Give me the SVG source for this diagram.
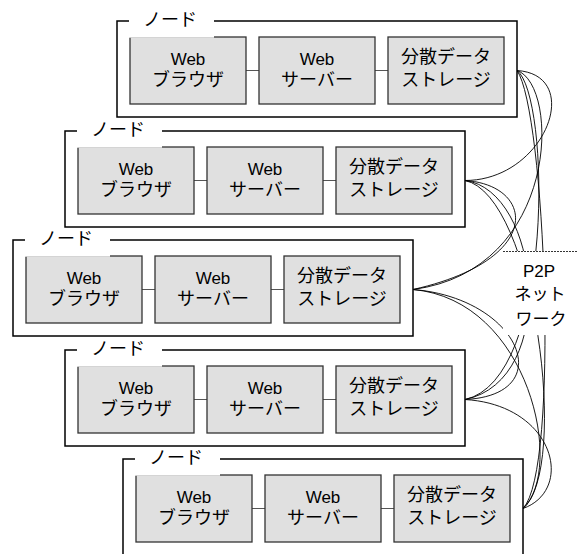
<svg xmlns="http://www.w3.org/2000/svg" width="577" height="554" viewBox="0 0 577 554">
<style>
  .outer{fill:#fff;stroke:#000;stroke-width:1.5}
  .box{fill:#e0e0e0;stroke:#333;stroke-width:1.3}
  .link{stroke:#555;stroke-width:1}
  .lab{fill:#fff;stroke:none}
  text{font-family:"Liberation Sans","Noto Sans CJK JP",sans-serif;fill:#000;text-anchor:middle}
  .ja{font-size:18px}
  .en{font-size:17px}
  .nl{font-size:18px;text-anchor:start}
  .curve{fill:none;stroke:#000;stroke-width:0.9}
  .stub{stroke:#000;stroke-width:2}
</style>
<defs>
  <g id="nodeT">
    <rect class="outer" x="0" y="0" width="400" height="96"/>
    <line class="link" x1="129" y1="49.5" x2="142" y2="49.5"/>
    <line class="link" x1="258" y1="49.5" x2="271" y2="49.5"/>
    <rect class="box" x="13" y="16" width="116" height="67"/>
    <rect class="box" x="142" y="16" width="116" height="67"/>
    <rect class="box" x="271" y="16" width="116" height="67"/>
    <rect class="lab" x="12" y="-9" width="85" height="25.7"/>
    <text class="nl" x="26" y="5">ノード</text>
    <text class="en" x="71" y="44">Web</text>
    <text class="ja" x="71" y="65">ブラウザ</text>
    <text class="en" x="200" y="44">Web</text>
    <text class="ja" x="200" y="65">サーバー</text>
    <text class="ja" x="329" y="42">分散データ</text>
    <text class="ja" x="329" y="65">ストレージ</text>
  </g>
</defs>
<g id="connectors">
  <path class="curve" d="M517,70.5 C585,75 545,180.5 465,180.5"/>
  <path class="curve" d="M517,70.5 C560,85 560,270 413,289.5"/>
  <path class="curve" d="M517,70.5 C550,95 555,380 465,399.5"/>
  <path class="curve" d="M517,70.5 C545,110 560,470 523,508.5"/>
  <path class="curve" d="M465,180.5 C535,185 545,260 413,289.5"/>
  <path class="curve" d="M465,180.5 C540,190 560,380 465,399.5"/>
  <path class="curve" d="M465,180.5 C535,195 570,470 523,508.5"/>
  <path class="curve" d="M413,289.5 C520,298 560,395 465,399.5"/>
  <path class="curve" d="M413,289.5 C530,300 565,470 523,508.5"/>
  <path class="curve" d="M465,399.5 C555,405 575,490 523,508.5"/>
  <line class="stub" x1="504" y1="70.5" x2="517" y2="70.5"/>
  <line class="stub" x1="452" y1="180.5" x2="465" y2="180.5"/>
  <line class="stub" x1="400" y1="289.5" x2="413" y2="289.5"/>
  <line class="stub" x1="452" y1="399.5" x2="465" y2="399.5"/>
  <line class="stub" x1="510" y1="508.5" x2="523" y2="508.5"/>
</g>
<g id="p2p">
  <rect x="503" y="251" width="74" height="84" fill="#fff"/>
  <line x1="503" y1="251.5" x2="577" y2="251.5" stroke="#000" stroke-width="0.8" stroke-dasharray="2,1"/>
  <text class="en" x="539" y="277">P2P</text>
  <text class="en" x="540" y="300">ネット</text>
  <text class="en" x="541" y="325">ワーク</text>
</g>
<g id="node1"><use href="#nodeT" x="117" y="21"/></g>
<g id="node2"><use href="#nodeT" x="65" y="131"/></g>
<g id="node3"><use href="#nodeT" x="13" y="240"/></g>
<g id="node4"><use href="#nodeT" x="65" y="350"/></g>
<g id="node5"><use href="#nodeT" x="123" y="459"/></g>
</svg>
